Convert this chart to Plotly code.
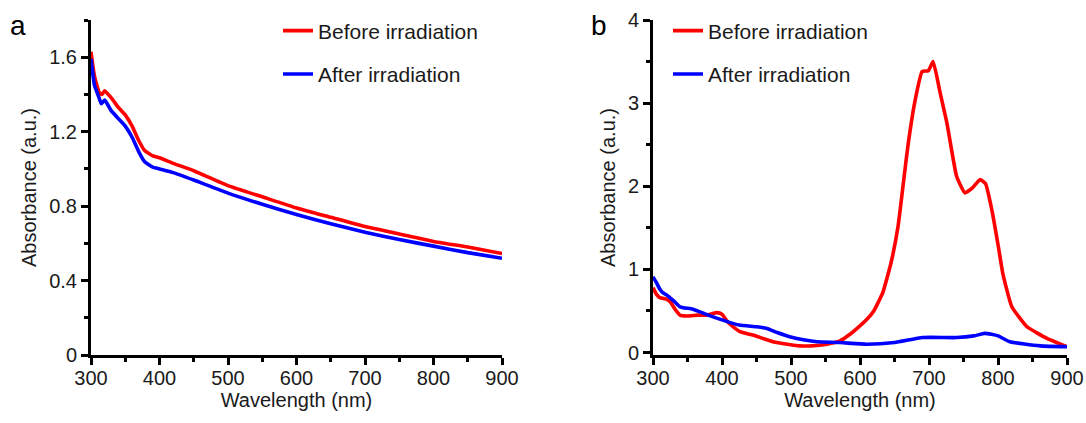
import plotly.graph_objects as go

# Panel a data
wl_a_before = [300, 305, 312, 316, 320, 330, 340, 350, 360, 370, 378, 390, 400, 420, 450, 500, 550, 600, 650, 700, 750, 800, 850, 900]
abs_a_before = [1.63, 1.50, 1.41, 1.40, 1.42, 1.38, 1.33, 1.29, 1.23, 1.15, 1.10, 1.07, 1.06, 1.03, 0.99, 0.91, 0.85, 0.79, 0.74, 0.69, 0.65, 0.61, 0.58, 0.545]
wl_a_after = [300, 305, 312, 315, 320, 330, 340, 350, 360, 370, 378, 390, 400, 420, 450, 500, 550, 600, 650, 700, 750, 800, 850, 900]
abs_a_after = [1.59, 1.45, 1.38, 1.35, 1.37, 1.31, 1.27, 1.23, 1.17, 1.09, 1.04, 1.01, 1.00, 0.98, 0.94, 0.87, 0.81, 0.755, 0.705, 0.66, 0.62, 0.585, 0.55, 0.52]

# Panel b data
wl_b_before = [300, 305, 310, 320, 325, 332, 339, 350, 365, 378, 393, 400, 409, 426, 445, 459, 474, 495, 513, 530, 552, 571, 584, 597, 610, 620, 633, 645, 655, 663, 670, 680, 690, 699, 706, 716, 726, 740, 752, 763, 774, 782, 791, 800, 807, 820, 842, 871, 900]
abs_b_before = [0.78, 0.70, 0.66, 0.64, 0.61, 0.52, 0.45, 0.44, 0.45, 0.45, 0.48, 0.46, 0.36, 0.25, 0.21, 0.17, 0.13, 0.10, 0.08, 0.08, 0.10, 0.14, 0.21, 0.30, 0.40, 0.50, 0.72, 1.08, 1.51, 2.05, 2.52, 3.04, 3.38, 3.39, 3.50, 3.13, 2.76, 2.12, 1.92, 1.98, 2.08, 2.03, 1.72, 1.30, 0.95, 0.55, 0.31, 0.17, 0.07]
wl_b_after = [300, 305, 310, 314, 320, 330, 339, 358, 380, 401, 425, 450, 465, 480, 498, 520, 538, 571, 610, 650, 691, 740, 765, 781, 800, 817, 861, 900]
abs_b_after = [0.91, 0.84, 0.76, 0.72, 0.69, 0.62, 0.55, 0.52, 0.45, 0.39, 0.33, 0.31, 0.29, 0.24, 0.19, 0.15, 0.13, 0.12, 0.10, 0.12, 0.18, 0.18, 0.20, 0.23, 0.20, 0.13, 0.08, 0.07]

series_names = ["Before irradiation", "After irradiation"]
colors = ["#ff0000", "#0000ff"]

x_ticks = [300, 400, 500, 600, 700, 800, 900]
x_ticktext = ["300", "400", "500", "600", "700", "800", "900"]
ya_ticks = [0, 0.4, 0.8, 1.2, 1.6]
ya_ticktext = ["0", "0.4", "0.8", "1.2", "1.6"]
yb_ticks = [0, 1, 2, 3, 4]
yb_ticktext = ["0", "1", "2", "3", "4"]

FONT = "Liberation Sans, Arial, sans-serif"
# the page body margin is removed after plotting (post_script), so figure = full window
OFF = 0
W, H = 1086, 423
T_M = 20 - OFF
B_M = H - (355 - OFF)
PLOT_H = H - T_M - B_M
LW = 3.6


def px(X):
    return (X - OFF) / W


def py(Y):
    return 1 - ((Y - OFF) - T_M) / PLOT_H


fig = go.Figure()
fig.add_trace(go.Scatter(x=wl_a_before, y=abs_a_before, mode="lines", name=series_names[0],
                         line=dict(color=colors[0], width=LW, shape="spline", smoothing=0.4),
                         xaxis="x", yaxis="y", legend="legend", legendgroup="a1"))
fig.add_trace(go.Scatter(x=wl_a_after, y=abs_a_after, mode="lines", name=series_names[1],
                         line=dict(color=colors[1], width=LW, shape="spline", smoothing=0.4),
                         xaxis="x", yaxis="y", legend="legend", legendgroup="a2"))
fig.add_trace(go.Scatter(x=wl_b_before, y=abs_b_before, mode="lines", name=series_names[0],
                         line=dict(color=colors[0], width=LW, shape="spline", smoothing=0.4),
                         xaxis="x2", yaxis="y2", legend="legend2", legendgroup="b1"))
fig.add_trace(go.Scatter(x=wl_b_after, y=abs_b_after, mode="lines", name=series_names[1],
                         line=dict(color=colors[1], width=LW, shape="spline", smoothing=0.5),
                         xaxis="x2", yaxis="y2", legend="legend2", legendgroup="b2"))

axis_common = dict(
    showline=True, linecolor="black", linewidth=3, mirror=False,
    ticks="outside", ticklen=7, tickwidth=3, tickcolor="black",
    showgrid=False, zeroline=False, automargin=False,
    ticklabeloverflow="allow",
    tickfont=dict(family=FONT, size=20, color="#1a1a1a"),
)
minor_common = dict(ticks="outside", ticklen=4, tickwidth=3, tickcolor="black", showgrid=False)

xa_dom = [px(91), px(502)]
xb_dom = [px(653), px(1067)]
legend_font = dict(family=FONT, size=21, color="#1a1a1a")
LEG_Y = 1 + 9.5 / PLOT_H

fig.update_layout(
    width=W, height=H,
    margin=dict(l=0, r=0, t=T_M, b=B_M, pad=0, autoexpand=False),
    paper_bgcolor="white", plot_bgcolor="white",
    font=dict(family=FONT, size=20, color="#1a1a1a"),
    xaxis=dict(domain=xa_dom, range=[300, 900], anchor="y",
               tickvals=x_ticks, ticktext=x_ticktext,
               minor=dict(dtick=50, **minor_common),
               ticklabelstandoff=-4,
               title=dict(text="Wavelength (nm)", font=dict(family=FONT, size=20), standoff=3),
               **axis_common),
    yaxis=dict(domain=[0, 1], range=[0, 1.8], anchor="x",
               tickvals=ya_ticks, ticktext=ya_ticktext,
               minor=dict(tickvals=[0.2, 0.6, 1.0, 1.4, 1.8], **minor_common),
               title=dict(text="Absorbance (a.u.)", font=dict(family=FONT, size=20), standoff=8),
               **axis_common),
    xaxis2=dict(domain=xb_dom, range=[300, 900], anchor="y2",
                tickvals=x_ticks, ticktext=x_ticktext,
                minor=dict(dtick=50, **minor_common),
                ticklabelstandoff=-4,
                title=dict(text="Wavelength (nm)", font=dict(family=FONT, size=20), standoff=3),
                **axis_common),
    yaxis2=dict(domain=[0, 1], range=[-0.03, 4.0], anchor="x2",
                tickvals=yb_ticks, ticktext=yb_ticktext,
                minor=dict(tickvals=[0.5, 1.5, 2.5, 3.5], **minor_common),
                title=dict(text="Absorbance (a.u.)", font=dict(family=FONT, size=20), standoff=7),
                **axis_common),
    legend=dict(x=px(278), xref="paper", y=LEG_Y, yref="paper",
                xanchor="left", yanchor="top",
                bgcolor="rgba(0,0,0,0)", font=legend_font,
                tracegroupgap=13, itemwidth=30),
    legend2=dict(x=px(668), xref="paper", y=LEG_Y, yref="paper",
                 xanchor="left", yanchor="top",
                 bgcolor="rgba(0,0,0,0)", font=legend_font,
                 tracegroupgap=13, itemwidth=30),
    showlegend=True,
    annotations=[
        dict(text="a", x=px(18), y=py(26), xref="paper", yref="paper", showarrow=False,
             xanchor="center", yanchor="middle", font=dict(family=FONT, size=28, color="black")),
        dict(text="b", x=px(599), y=py(26), xref="paper", yref="paper", showarrow=False,
             xanchor="center", yanchor="middle", font=dict(family=FONT, size=28, color="black")),
    ],
)

fig.write_html("out.html", config={"displayModeBar": False},
               post_script="document.body.style.margin='0';document.body.style.overflow='hidden';")
